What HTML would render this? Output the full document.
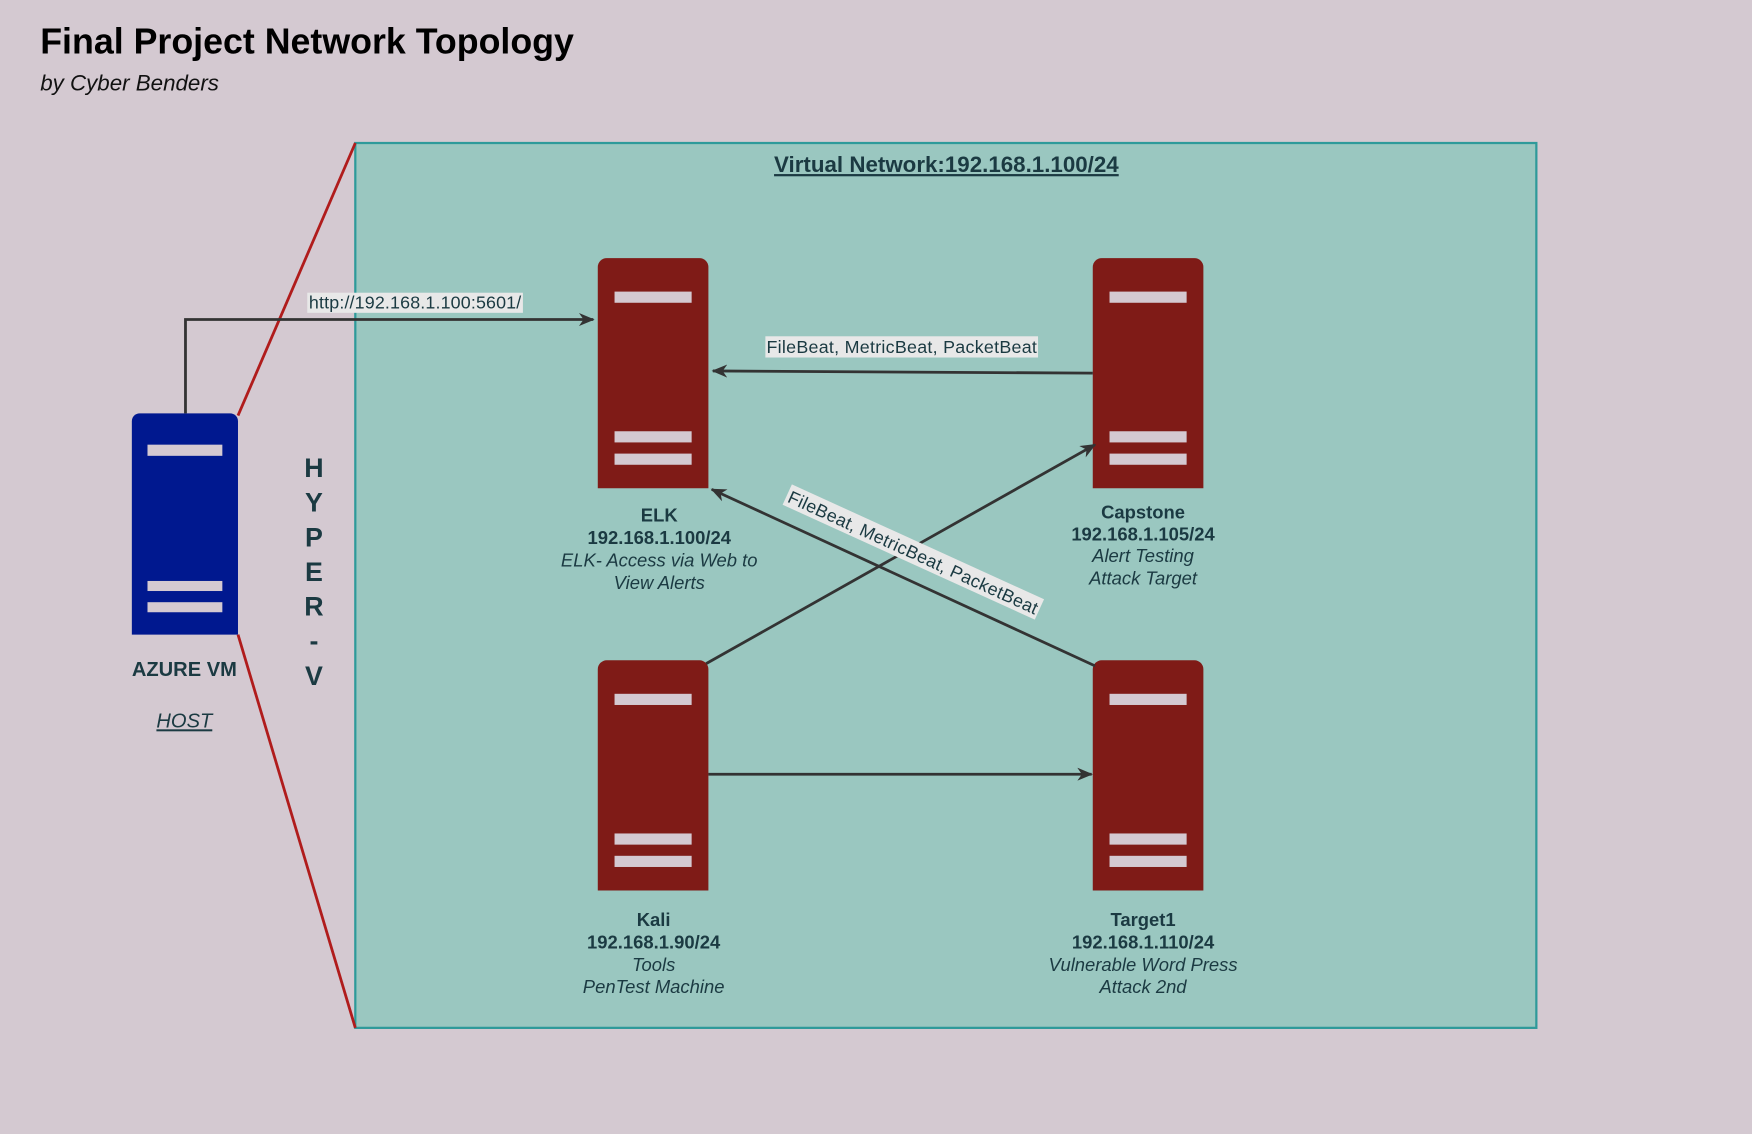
<!DOCTYPE html>
<html><head><meta charset="utf-8"><style>
html,body{margin:0;padding:0;background:#d4c9d1;}
svg{display:block;}
text{font-family:"Liberation Sans",Arial,sans-serif;fill:#1b3a42;}
</style></head><body>
<svg width="1752" height="1134" viewBox="0 0 1568 1015" preserveAspectRatio="none" xmlns="http://www.w3.org/2000/svg">
<defs>
<marker id="a" viewBox="0 0 12 10" refX="11" refY="5" markerWidth="14" markerHeight="12" orient="auto" markerUnits="userSpaceOnUse">
<path d="M0,0 L12,5 L0,10 L3.5,5 z" fill="#333"/></marker>
</defs>
<rect width="1568" height="1015" fill="#d4c9d1"/>
<text x="36" y="48" font-size="32" font-weight="bold" style="fill:#000">Final Project Network Topology</text>
<text x="36" y="81" font-size="20" font-style="italic" style="fill:#111">by Cyber Benders</text>

<rect x="318" y="128" width="1057" height="792" fill="#9ac7c0" stroke="#2e9a9a" stroke-width="2"/>
<text x="847" y="154" font-size="20" font-weight="bold" text-anchor="middle" text-decoration="underline">Virtual Network:192.168.1.100/24</text>

<line x1="213" y1="372" x2="318" y2="128" stroke="#b01c1c" stroke-width="2.5"/>
<line x1="213" y1="568" x2="318" y2="920" stroke="#b01c1c" stroke-width="2.5"/>

<g id="srv">
<path d="M535,437 V239 a8,8 0 0 1 8,-8 H626 a8,8 0 0 1 8,8 V437 z" fill="#7f1b17"/>
<rect x="550" y="261" width="69" height="10" fill="#d4c9d1"/>
<rect x="550" y="386" width="69" height="10" fill="#d4c9d1"/>
<rect x="550" y="406" width="69" height="10" fill="#d4c9d1"/>
</g>
<use href="#srv" x="443" y="0"/>
<use href="#srv" x="0" y="360"/>
<use href="#srv" x="443" y="360"/>

<path d="M118,568 V377 a7,7 0 0 1 7,-7 H206 a7,7 0 0 1 7,7 V568 z" fill="#00188f"/>
<rect x="132" y="398" width="67" height="10" fill="#d4c9d1"/>
<rect x="132" y="520" width="67" height="9" fill="#d4c9d1"/>
<rect x="132" y="539" width="67" height="9" fill="#d4c9d1"/>

<path d="M166,370 V286 H531" fill="none" stroke="#333" stroke-width="2.5" marker-end="url(#a)"/>
<rect x="275" y="262" width="193" height="18" fill="#e8e8e8"/>
<text x="371.5" y="276" font-size="16" text-anchor="middle" textLength="190">http://192.168.1.100:5601/</text>

<line x1="978" y1="334" x2="638" y2="332" stroke="#333" stroke-width="2.5" marker-end="url(#a)"/>
<rect x="685" y="301" width="244" height="19" fill="#e8e8e8"/>
<text x="807" y="316" font-size="16" text-anchor="middle" textLength="242">FileBeat, MetricBeat, PacketBeat</text>

<line x1="632" y1="594" x2="980" y2="398" stroke="#333" stroke-width="2.5" marker-end="url(#a)"/>
<line x1="980" y1="596" x2="637" y2="438" stroke="#333" stroke-width="2.5" marker-end="url(#a)"/>
<line x1="634" y1="693" x2="977" y2="693" stroke="#333" stroke-width="2.5" marker-end="url(#a)"/>

<g transform="translate(817,495) rotate(24.5)">
<rect x="-124" y="-11" width="248" height="20" fill="#e8e8e8"/>
<text x="0" y="5" font-size="16" text-anchor="middle" textLength="244">FileBeat, MetricBeat, PacketBeat</text>
</g>

<g font-size="16.5" text-anchor="middle">
<text x="590" y="467" font-weight="bold">ELK</text>
<text x="590" y="487" font-weight="bold">192.168.1.100/24</text>
<text x="590" y="507" font-style="italic">ELK- Access via Web to</text>
<text x="590" y="527" font-style="italic">View Alerts</text>

<text x="1023" y="464" font-weight="bold">Capstone</text>
<text x="1023" y="484" font-weight="bold">192.168.1.105/24</text>
<text x="1023" y="503" font-style="italic">Alert Testing</text>
<text x="1023" y="523" font-style="italic">Attack Target</text>

<text x="585" y="829" font-weight="bold">Kali</text>
<text x="585" y="849" font-weight="bold">192.168.1.90/24</text>
<text x="585" y="869" font-style="italic">Tools</text>
<text x="585" y="889" font-style="italic">PenTest Machine</text>

<text x="1023" y="829" font-weight="bold">Target1</text>
<text x="1023" y="849" font-weight="bold">192.168.1.110/24</text>
<text x="1023" y="869" font-style="italic">Vulnerable Word Press</text>
<text x="1023" y="889" font-style="italic">Attack 2nd</text>

<text x="165" y="605" font-size="18" font-weight="bold">AZURE VM</text>
<text x="165" y="651" font-size="18" font-style="italic" text-decoration="underline">HOST</text>
</g>

<g font-size="24" font-weight="bold" text-anchor="middle">
<text x="281" y="427">H</text>
<text x="281" y="458">Y</text>
<text x="281" y="489">P</text>
<text x="281" y="520">E</text>
<text x="281" y="551">R</text>
<text x="281" y="582">-</text>
<text x="281" y="613">V</text>
</g>
</svg>
</body></html>
